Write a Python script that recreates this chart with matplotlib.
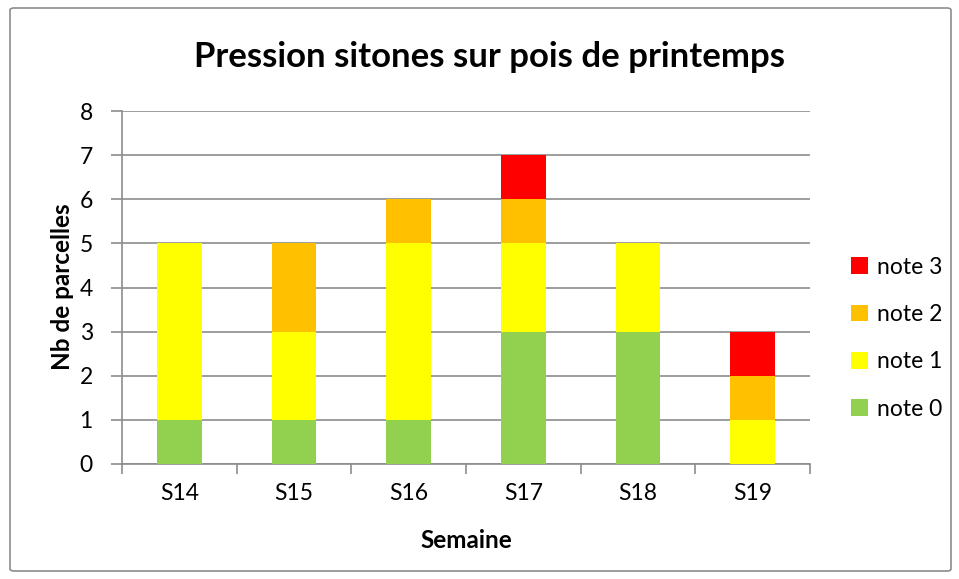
import matplotlib
matplotlib.use('Agg')
import matplotlib.pyplot as plt
import numpy as np
from matplotlib.patches import FancyBboxPatch, Patch

plt.rcParams['font.family'] = ['Lato', 'DejaVu Sans']

semaines = ['S14', 'S15', 'S16', 'S17', 'S18', 'S19']
note0 = [1, 1, 1, 3, 3, 0]
note1 = [4, 2, 4, 2, 2, 1]
note2 = [0, 2, 1, 1, 0, 1]
note3 = [0, 0, 0, 1, 0, 1]

series = [('note 0', note0, '#92D050'),
          ('note 1', note1, '#FFFF00'),
          ('note 2', note2, '#FFC000'),
          ('note 3', note3, '#FF0000')]

W, H = 959, 579
fig = plt.figure(figsize=(W / 100, H / 100), dpi=100)

# cadre du graphique
fig.patches.append(FancyBboxPatch((10 / W, 8 / H), 941 / W, 563 / H,
                                  boxstyle='round,pad=0,rounding_size=0.004',
                                  transform=fig.transFigure, fill=False,
                                  edgecolor='#8c8c8c', linewidth=1.2))

ax = fig.add_axes([122 / W, 1 - 464 / H, 688 / W, 353 / H])

x = np.arange(len(semaines))
bottom = np.zeros(len(semaines))
handles = []
for nom, vals, col in series:
    ax.bar(x, vals, 0.39, bottom=bottom, color=col, zorder=3)
    bottom += np.array(vals)
    handles.append(Patch(facecolor=col, label=nom))

ax.set_xlim(-0.5, len(semaines) - 0.5)
ax.set_ylim(0, 8)
ax.set_yticks(range(0, 9))
ax.yaxis.grid(True, color='#8c8c8c', linewidth=1.2, zorder=0)
ax.set_xticks(x)
ax.set_xticklabels(semaines)
ax.set_xticks(np.arange(-0.5, len(semaines)), minor=True)
ax.tick_params(axis='x', which='major', length=0, pad=14, labelsize=16.5)
ax.tick_params(axis='x', which='minor', length=7, color='#8c8c8c', width=1.2)
ax.tick_params(axis='y', length=8, color='#8c8c8c', width=1.2, pad=13, labelsize=16.5)
for s in ['top', 'right']:
    ax.spines[s].set_visible(False)
for s in ['left', 'bottom']:
    ax.spines[s].set_color('#8c8c8c')
    ax.spines[s].set_linewidth(1.2)

fig.text(489 / W, 1 - 57 / H, 'Pression sitones sur pois de printemps',
         ha='center', va='center', fontsize=25, fontweight='bold')
fig.text(63 / W, 1 - 287 / H, 'Nb de parcelles', ha='center', va='center',
         rotation=90, fontsize=17.5, fontweight='bold')
fig.text(466 / W, 1 - 541 / H, 'Semaine', ha='center', va='center',
         fontsize=17.5, fontweight='bold')

fig.legend(handles[::-1], [h.get_label() for h in handles[::-1]],
           loc='upper left', bbox_to_anchor=(830 / W, 1 - 236 / H),
           frameon=False, fontsize=16.5, handlelength=0.75, handleheight=0.75,
           handletextpad=0.4, labelspacing=1.15)

fig.savefig('out.png', dpi=100)
